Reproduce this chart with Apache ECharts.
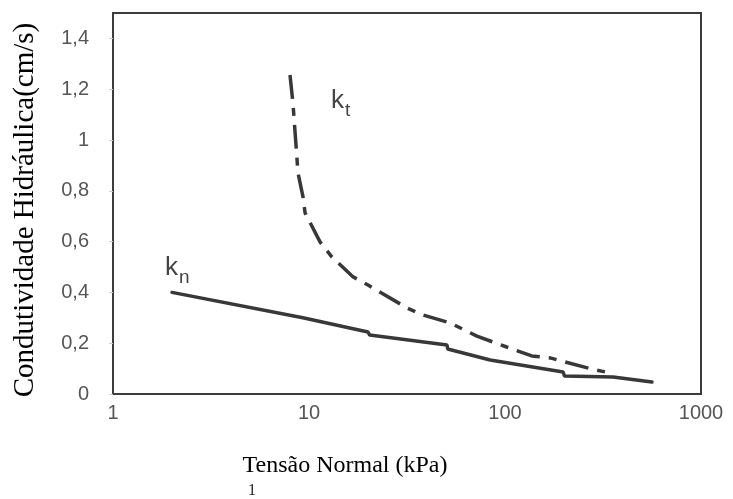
<!DOCTYPE html>
<html>
<head>
<meta charset="utf-8">
<script src="https://cdn.jsdelivr.net/npm/echarts@6/dist/echarts.min.js"></script>
<style>html,body{margin:0;padding:0;background:#fff;}#c{width:733px;height:499px;}</style>
</head>
<body>
<div id="c"></div>
<script>
// Data
const knX = [2, 9.3, 20, 20.4, 50.6, 51, 84, 198, 201, 356, 562];
const knY = [0.40, 0.30, 0.244, 0.232, 0.193, 0.177, 0.134, 0.087, 0.071, 0.067, 0.047];
const ktX = [8.0, 8.28, 8.79, 9.32, 9.55, 11.4, 13.1, 16.8, 20.0, 31.6, 38.2, 52.4, 71.9, 102, 137, 170, 278, 343];
const ktY = [1.256, 1.146, 0.870, 0.776, 0.713, 0.598, 0.539, 0.461, 0.429, 0.339, 0.311, 0.280, 0.228, 0.185, 0.150, 0.142, 0.098, 0.083];
const xTicks = [1, 10, 100, 1000];
const yTicks = [0, 0.2, 0.4, 0.6, 0.8, 1, 1.2, 1.4];
const xTitle = 'Tensão Normal (kPa)';
const yTitle = 'Condutividade Hidráulica(cm/s)';

const pairs = (xs, ys) => xs.map((x, i) => [x, ys[i]]);
const chart = echarts.init(document.getElementById('c'));
chart.setOption({
  animation: false,
  grid: { left: 113, right: 32, top: 13, bottom: 105, show: true, borderColor: '#3c3c3c', borderWidth: 2, backgroundColor: '#fff' },
  xAxis: {
    type: 'log', logBase: 10, min: 1, max: 1000,
    axisLine: { show: true, lineStyle: { color: '#3c3c3c', width: 2 } },
    axisTick: { show: false },
    splitLine: { show: false },
    minorTick: { show: false },
    axisLabel: { margin: 9, fontFamily: 'Liberation Sans', fontSize: 20, color: '#555',
      formatter: v => xTicks.includes(Math.round(v)) ? String(Math.round(v)) : '' }
  },
  yAxis: {
    type: 'value', min: 0, max: 1.5, interval: 0.2,
    axisLine: { show: true, lineStyle: { color: '#3c3c3c', width: 2 } },
    axisTick: { show: true, inside: false, length: 4, lineStyle: { color: '#ccc' } },
    splitLine: { show: false },
    axisLabel: { margin: 24, showMaxLabel: false, fontFamily: 'Liberation Sans', fontSize: 20, color: '#555',
      formatter: v => yTicks.some(t => Math.abs(t - v) < 1e-6) ? String(Math.round(v * 10) / 10).replace('.', ',') : '' }
  },
  series: [
    { type: 'line', data: pairs(knX, knY), showSymbol: false, symbol: 'none',
      lineStyle: { color: '#383838', width: 3.5, cap: 'round' } },
    { type: 'line', data: pairs(ktX, ktY), showSymbol: false, symbol: 'none',
      lineStyle: { color: '#383838', width: 3.5, type: [24, 9, 8, 9], cap: 'butt' } }
  ],
  graphic: [
    { type: 'text', x: 25, y: 210, rotation: Math.PI / 2,
      style: { text: yTitle, font: '29px "Liberation Serif"', fill: '#000', align: 'center', verticalAlign: 'middle' } },
    { type: 'text', x: 345, y: 466,
      style: { text: xTitle, font: '24px "Liberation Serif"', fill: '#000', align: 'center', verticalAlign: 'middle' } },
    { type: 'text', x: 252, y: 491,
      style: { text: '1', font: '16px "Liberation Serif"', fill: '#222', align: 'center', verticalAlign: 'middle' } },
    { type: 'text', x: 165, y: 255,
      style: { text: '{k|k}{s|n}', rich: { k: { font: '26px "Liberation Sans"', fill: '#444', verticalAlign: 'bottom' }, s: { font: '19px "Liberation Sans"', fill: '#444', verticalAlign: 'bottom', padding: [0, 0, -6, 1] } } } },
    { type: 'text', x: 331, y: 88,
      style: { text: '{k|k}{s|t}', rich: { k: { font: '26px "Liberation Sans"', fill: '#444', verticalAlign: 'bottom' }, s: { font: '19px "Liberation Sans"', fill: '#444', verticalAlign: 'bottom', padding: [0, 0, -6, 1] } } } }
  ]
});
</script>
</body>
</html>
